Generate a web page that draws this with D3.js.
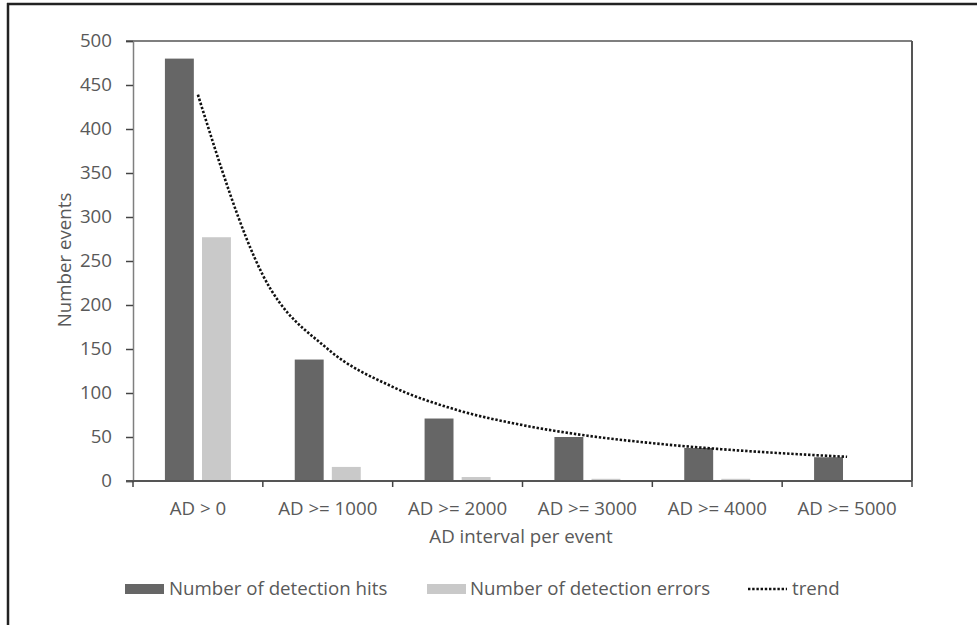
<!DOCTYPE html>
<html><head><meta charset="utf-8">
<script src="https://cdn.jsdelivr.net/npm/d3@7"></script>
<style>
html,body{margin:0;padding:0;background:#fff;}
svg{display:block;}
text{font-family:"Open Sans","Noto Sans",sans-serif;fill:#595959;}
</style></head>
<body>
<script>
const categories = ["AD > 0","AD >= 1000","AD >= 2000","AD >= 3000","AD >= 4000","AD >= 5000"];
const hits = [480, 138, 71, 50, 37.5, 27];
const errors = [277, 16, 4.5, 2.5, 2.5, 0];
// trend line at every half category (position 1..6)
const trendPos = [1, 1.5, 2, 2.5, 3, 3.5, 4, 4.5, 5, 5.5, 6];
const trendVal = [439, 234, 150, 107, 80.5, 63.5, 51.5, 43, 36.5, 31.5, 27.5];
const yTicks = [0, 50, 100, 150, 200, 250, 300, 350, 400, 450, 500];
const seriesNames = ["Number of detection hits", "Number of detection errors", "trend"];

const W = 977, H = 625;
const L = 133, R = 912, T = 41, B = 481;
const FS = "18.7px";
const svg = d3.select("body").append("svg").attr("width", W).attr("height", H);

// outer frame (top and left only)
svg.append("line").attr("x1", 7).attr("x2", W).attr("y1", 4).attr("y2", 4).attr("stroke", "#222").attr("stroke-width", 2.5);
svg.append("line").attr("x1", 8).attr("x2", 8).attr("y1", 3).attr("y2", H).attr("stroke", "#222").attr("stroke-width", 2.5);

const x = d3.scaleBand().domain(categories).range([L, R]).padding(0);
const bw = x.bandwidth();
const xs = d3.scaleBand().domain(["hits", "errors"]).range([bw / 2 - 33, bw / 2 + 33]).paddingInner(0.22);
const y = d3.scaleLinear().domain([0, 500]).range([B, T]);
const xt = d3.scaleLinear().domain([1, 6]).range([x(categories[0]) + bw / 2, x(categories[5]) + bw / 2]);

// frame top & right
svg.append("line").attr("x1", L - 7).attr("x2", R).attr("y1", T).attr("y2", T).attr("stroke", "#555").attr("stroke-width", 1.5);
svg.append("line").attr("x1", R).attr("x2", R).attr("y1", T).attr("y2", B).attr("stroke", "#555").attr("stroke-width", 2);

// bars
const g = svg.append("g");
g.selectAll("rect.h").data(hits).enter().append("rect")
  .attr("x", (d, i) => x(categories[i]) + xs("hits")).attr("width", xs.bandwidth())
  .attr("y", d => y(d)).attr("height", d => B - y(d)).attr("fill", "#666666");
g.selectAll("rect.e").data(errors).enter().append("rect")
  .attr("x", (d, i) => x(categories[i]) + xs("errors")).attr("width", xs.bandwidth())
  .attr("y", d => y(d)).attr("height", d => B - y(d)).attr("fill", "#c9c9c9");

// y axis
const yAxis = svg.append("g").attr("transform", `translate(${L},0)`)
  .call(d3.axisLeft(y).tickValues(yTicks).tickSize(7).tickPadding(14));
yAxis.select(".domain").attr("stroke", "#7f7f7f").attr("stroke-width", 1.5);
yAxis.selectAll(".tick line").attr("stroke", "#444").attr("stroke-width", 1.5);
yAxis.selectAll(".tick text").style("font-size", FS).attr("fill", "#595959");

// x axis
const xAxis = svg.append("g").attr("transform", `translate(0,${B})`)
  .call(d3.axisBottom(x).tickSize(0));
xAxis.select(".domain").remove();
xAxis.selectAll(".tick text").style("font-size", FS).attr("fill", "#595959").attr("y", 34).attr("dy", 0);
svg.append("line").attr("x1", L - 7).attr("x2", R).attr("y1", B).attr("y2", B).attr("stroke", "#555").attr("stroke-width", 2);
const bounds = categories.map(c => x(c)).concat([R]);
svg.selectAll("line.xt").data(bounds).enter().append("line")
  .attr("x1", d => d).attr("x2", d => d).attr("y1", B).attr("y2", B + 6)
  .attr("stroke", "#444").attr("stroke-width", 1.5);

// trend
const line = d3.line().x((d, i) => xt(trendPos[i])).y(d => y(d)).curve(d3.curveMonotoneX);
svg.append("path").datum(trendVal).attr("d", line).attr("fill", "none")
  .attr("stroke", "#111").attr("stroke-width", 2.6).attr("stroke-dasharray", "2.4,1.8");

// axis titles
svg.append("text").attr("x", 521).attr("y", 543).attr("text-anchor", "middle")
  .style("font-size", FS).text("AD interval per event");
svg.append("text").attr("transform", `translate(71,260) rotate(-90)`).attr("text-anchor", "middle")
  .style("font-size", FS).text("Number events");

// legend
const lg = svg.append("g");
lg.append("rect").attr("x", 125).attr("y", 584).attr("width", 39).attr("height", 10).attr("fill", "#666666");
lg.append("text").attr("x", 169).attr("y", 595).style("font-size", FS).text(seriesNames[0]);
lg.append("rect").attr("x", 427).attr("y", 584).attr("width", 39).attr("height", 10).attr("fill", "#c9c9c9");
lg.append("text").attr("x", 470).attr("y", 595).style("font-size", FS).text(seriesNames[1]);
lg.append("line").attr("x1", 748).attr("x2", 787).attr("y1", 589).attr("y2", 589)
  .attr("stroke", "#111").attr("stroke-width", 2.6).attr("stroke-dasharray", "2.4,1.8");
lg.append("text").attr("x", 792).attr("y", 595).style("font-size", FS).text(seriesNames[2]);
</script>
</body></html>
